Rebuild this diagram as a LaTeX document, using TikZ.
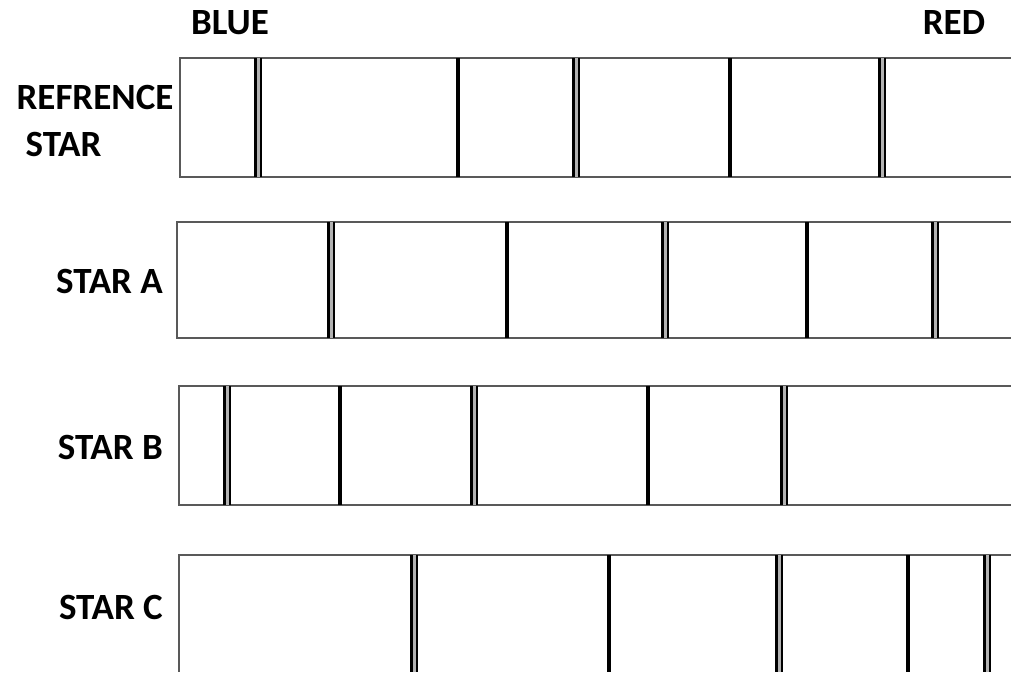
\documentclass[tikz,border=0pt]{standalone}
\usepackage{fontspec}
\setmainfont{Carlito}
\begin{document}
\begin{tikzpicture}[
  x=1pt, y=-1pt,
  tag/.style={font=\fontsize{37}{47}\selectfont\bfseries, text=black, inner sep=0pt},
  frame/.style={draw=black!65, line width=2pt},
  single/.style={draw=black, line width=3.2pt},
  twin/.style={draw=black, line width=2.6pt, double=black!30, double distance=3pt}
]
\useasboundingbox[fill=white] (0,0) rectangle (1011,672);

\node[tag] (blue) at (230,23) {BLUE};
\node[tag] (red) at (954,23) {RED};
\node[tag, align=left] (refname) at (95,121) {REFRENCE\\\hspace{9pt}STAR};
\node[tag, anchor=east] (aname) at (163,281) {STAR A};
\node[tag, anchor=east] (bname) at (163,447) {STAR B};
\node[tag, anchor=east] (cname) at (163,607) {STAR C};

\draw[frame] (1011,58) -| (180,177) -- (1011,177);
\draw[twin] (258,58) -- (258,177);
\draw[single] (458,58) -- (458,177);
\draw[twin] (576,58) -- (576,177);
\draw[single] (730,58) -- (730,177);
\draw[twin] (882,58) -- (882,177);

\draw[frame] (1011,222) -| (177,338) -- (1011,338);
\draw[twin] (331,222) -- (331,338);
\draw[single] (507,222) -- (507,338);
\draw[twin] (665,222) -- (665,338);
\draw[single] (807,222) -- (807,338);
\draw[twin] (935,222) -- (935,338);

\draw[frame] (1011,386) -| (179,505) -- (1011,505);
\draw[twin] (227,386) -- (227,505);
\draw[single] (340,386) -- (340,505);
\draw[twin] (474,386) -- (474,505);
\draw[single] (648,386) -- (648,505);
\draw[twin] (784,386) -- (784,505);

\draw[frame] (1011,555) -| (179,672);
\draw[twin] (414,555) -- (414,672);
\draw[single] (609,555) -- (609,672);
\draw[twin] (779,555) -- (779,672);
\draw[single] (908,555) -- (908,672);
\draw[twin] (987,555) -- (987,672);
\end{tikzpicture}
\end{document}
